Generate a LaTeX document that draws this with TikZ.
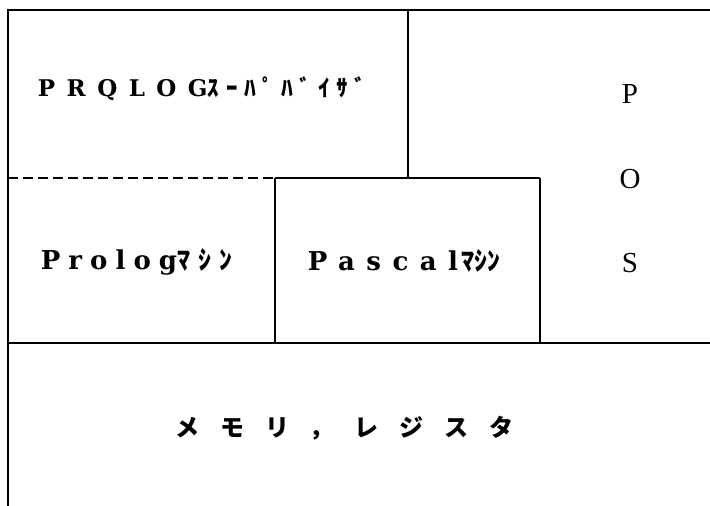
\documentclass[tikz,border=0pt]{standalone}
\usepackage{fontspec}
\setmainfont{Liberation Serif}
\newfontfamily\lat{DejaVu Serif}
\newfontfamily\jp{Noto Sans CJK JP}
\newcommand\tracked[2]{{\addfontfeatures{LetterSpace=#1}#2}}

\begin{document}
\begin{tikzpicture}[x=1pt, y=-1pt, line width=1.7pt,
    lbl/.style={anchor=base west, inner sep=0pt},
    oslbl/.style={anchor=base, inner sep=0pt, font=\fontsize{29}{29}\selectfont}]
    \useasboundingbox (0,0) rectangle (710,506);
    % Frame
    \draw (710,10) -- (8,10) -- (8,506);
    \draw (408,10) -- (408,178);
    \draw[dash pattern=on 10pt off 5pt] (8,178) -- (275,178);
    \draw (275,178) -- (540,178);
    \draw (275,178) -- (275,343);
    \draw (540,178) -- (540,343);
    \draw (8,343) -- (710,343);

    % Labels
    \node[lbl] (sv) at (37,96) {\fontsize{23}{23}\selectfont\bfseries
        {\lat\tracked{50}{PRQLOG}}{\jp\tracked{30}{ｽｰﾊﾟﾊﾞｲｻﾞ}}};
    \node[lbl] (plm) at (40,269) {\fontsize{26}{26}\selectfont\bfseries
        {\lat\tracked{31}{Prolog}}{\jp\tracked{31}{ﾏｼﾝ}}};
    \node[lbl] (psm) at (307,270) {\fontsize{26}{26}\selectfont\bfseries
        {\lat\tracked{44}{Pascal}}\hspace{4pt}{\jp\tracked{0}{ﾏｼﾝ}}};
    \node[lbl] (mem) at (175,436) {\jp\bfseries\fontsize{24}{24}\selectfont
        \tracked{87}{メモリ，レジスタ}};
    \node[oslbl] (p) at (630,103) {P};
    \node[oslbl] (o) at (630,188) {O};
    \node[oslbl] (s) at (630,272) {S};
\end{tikzpicture}
\end{document}
